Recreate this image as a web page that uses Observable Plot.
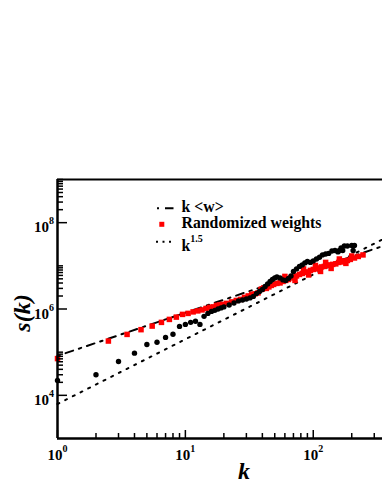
<!DOCTYPE html>
<html><head><meta charset="utf-8">
<script src="https://cdn.jsdelivr.net/npm/d3@7"></script>
<script src="https://cdn.jsdelivr.net/npm/@observablehq/plot@0.6"></script>
<style>body{margin:0;background:#fff} svg{display:block}</style>
</head><body><div id="chart"></div>
<script>
// Black circles: observed s(k)
const blackK = [1,2,3,4,5,6,7,8,9,10,11,12,13,14,15,16,17,18,19,20,22,24,26,28,30,32,34,36,38,40,42,44,46,48,50,52,55,58,61,64,67,70,74,78,82,86,90,95,100,106,112,118,125,132,140,148,156,160,165,170,175,185,200,205,210];
const blackS = [2.2e4,3.0e4,6.1e4,9.5e4,1.5e5,1.7e5,2.2e5,2.6e5,3.95e5,4.4e5,4.9e5,5.2e5,4.4e5,6.75e5,7.9e5,8.8e5,9.3e5,1.0e6,1.06e6,1.12e6,1.24e6,1.38e6,1.54e6,1.62e6,1.71e6,1.81e6,1.96e6,2.3e6,2.55e6,2.84e6,3.33e6,3.81e6,4.35e6,4.84e6,5.25e6,5.53e6,5.25e6,4.72e6,4.59e6,5.11e6,5.83e6,7.42e6,8.48e6,9.69e6,1.05e7,1.17e7,1.26e7,1.2e7,1.3e7,1.44e7,1.58e7,1.79e7,1.88e7,1.94e7,2.21e7,2.27e7,2.1e7,2.27e7,2.6e7,2.27e7,2.89e7,2.89e7,2.97e7,2.27e7,2.97e7];
// Red squares: randomized weights
const redK = [1,2.5,3.5,4.5,5.5,6.5,7.5,8.5,9.5,10.5,11.5,12.5,13.5,14.5,15.5,16.5,17.5,18.5,19.5,21,23,25,27,29,31,33,35,37,39,40,41,43,45,47,49,52,55,58,60,61,64,67,70,72,74,78,82,84,86,90,92,95,100,104,105,110,114,116,122,125,128,135,138,142,150,158,160,166,175,180,185,195,200,210,225,245];
const redS = [7.1e4,1.81e5,2.58e5,3.32e5,4.02e5,4.9e5,5.74e5,6.49e5,7.5e5,7.91e5,8.57e5,9.04e5,9.53e5,1.03e6,1.09e6,1.12e6,1.21e6,1.24e6,1.28e6,1.35e6,1.46e6,1.58e6,1.67e6,1.86e6,2.01e6,2.18e6,2.24e6,2.36e6,2.84e6,2.9e6,3.08e6,3.0e6,3.25e6,3.52e6,3.71e6,3.92e6,4.02e6,4.35e6,5.69e6,4.59e6,4.84e6,5.25e6,5.53e6,4.59e6,5.84e6,6.32e6,6.67e6,8.48e6,7.03e6,7.22e6,6.15e6,7.83e6,8.26e6,1.02e7,8.48e6,8.94e6,7.42e6,9.44e6,9.69e6,1.2e7,1.02e7,1.05e7,8.71e6,1.08e7,1.11e7,1.2e7,1.44e7,1.23e7,1.3e7,1.14e7,1.33e7,1.41e7,1.69e7,1.52e7,1.65e7,1.79e7];
// Reference lines
const kwK = [1, 348];
const kwS = [8.2e4, 2.85e7];
const k15K = [1, 348];
const k15S = [6.3e3, 4.09e7];
// Ticks
const xMajor = [1, 10, 100];
const xMinor = [2,3,4,5,6,7,8,9,20,30,40,50,60,70,80,90,200,300];
const yMajor = [1e4, 1e6, 1e8];
const yMinor = [2e4,3e4,4e4,5e4,6e4,7e4,8e4,9e4,1e5,2e6,3e6,4e6,5e6,6e6,7e6,8e6,9e6,1e7,2e8,3e8,4e8,5e8,6e8,7e8,8e8,9e8,1e9];
const xDomain = [1, 348];
const yDomain = [1e3, 1e9];
const legendLabels = ["k <w>", "Randomized weights", "k", "1.5"];
const xLabel = "k";
const yLabel = "s(k)";

const black = blackK.map((k, i) => ({k, s: blackS[i]}));
const red = redK.map((k, i) => ({k, s: redS[i]}));
const kw = kwK.map((k, i) => ({k, s: kwS[i]}));
const k15 = k15K.map((k, i) => ({k, s: k15S[i]}));

const font = "'Liberation Serif', 'Times New Roman', serif";
const expFmt = d => "10^" + Math.round(Math.log10(d));

const chart = Plot.plot({
  width: 382, height: 494,
  marginLeft: 57, marginRight: 0, marginTop: 179, marginBottom: 56,
  style: {fontFamily: font, background: "white", color: "black"},
  x: {type: "log", domain: xDomain, label: null},
  y: {type: "log", domain: yDomain, label: null},
  marks: [
    Plot.line(kw, {x: "k", y: "s", stroke: "black", strokeWidth: 2, strokeDasharray: "2.5,6,8,6"}),
    Plot.line(k15, {x: "k", y: "s", stroke: "black", strokeWidth: 2, strokeDasharray: "2,6.6"}),
    Plot.dot(red, {x: "k", y: "s", symbol: "square", r: 3.1, fill: "#ff0000"}),
    Plot.dot(black, {x: "k", y: "s", r: 2.7, fill: "black"}),
    Plot.axisX({ticks: xMinor, tickSize: -5, tickFormat: () => "", strokeWidth: 1.5, label: null}),
    Plot.axisX({ticks: xMajor, tickSize: -8, tickFormat: () => "", strokeWidth: 1.5, label: null}),
    Plot.axisX({ticks: xMajor, tickSize: 0, tickPadding: 11, tickFormat: expFmt, fontSize: 15, fontWeight: "bold", label: null}),
    Plot.axisY({ticks: yMinor, tickSize: -6, tickFormat: () => "", strokeWidth: 1.5, label: null}),
    Plot.axisY({ticks: yMajor, tickSize: -10, tickFormat: () => "", strokeWidth: 1.5, label: null}),
    Plot.axisY({ticks: yMajor, tickSize: 0, tickPadding: 3.5, dy: 5, tickFormat: expFmt, fontSize: 15, fontWeight: "bold", label: null}),
    Plot.ruleX([xDomain[0]], {strokeWidth: 2.5}),
    Plot.ruleY([yDomain[0]], {strokeWidth: 2.5}),
    Plot.ruleY([yDomain[1]], {strokeWidth: 2})
  ]
});

const svg = d3.select(chart);
// superscripts in tick labels
svg.selectAll('g[aria-label="x-axis tick label"] text, g[aria-label="y-axis tick label"] text').each(function() {
  const t = this.textContent;
  if (!t.includes("^")) return;
  const [base, exp] = t.split("^");
  const el = d3.select(this);
  el.text(null);
  el.append("tspan").text(base);
  el.append("tspan").attr("dy", -8).attr("font-size", 10).text(exp);
});

// axis titles
svg.append("text").attr("x", 244).attr("y", 479).attr("text-anchor", "middle")
  .attr("font-family", font).attr("font-size", 24).attr("font-weight", "bold").attr("font-style", "italic")
  .text(xLabel);
svg.append("text").attr("transform", "translate(30,313) rotate(-90)").attr("text-anchor", "middle")
  .attr("font-family", font).attr("font-size", 24).attr("font-weight", "bold").attr("font-style", "italic")
  .text(yLabel);

// legend
const lg = svg.append("g").attr("font-family", font).attr("font-size", 15.8).attr("font-weight", "bold")
  .attr("fill", "black").attr("text-anchor", "start");
lg.append("line").attr("x1", 157).attr("x2", 174).attr("y1", 208.3).attr("y2", 208.3)
  .attr("stroke", "black").attr("stroke-width", 2).attr("stroke-dasharray", "2,6,8.5");
lg.append("text").attr("x", 181.5).attr("y", 211.5).attr("text-anchor", "start").text(legendLabels[0]);
lg.append("rect").attr("x", 159.3).attr("y", 221.8).attr("width", 5).attr("height", 5).attr("fill", "#ff0000");
lg.append("text").attr("x", 181.5).attr("y", 228).attr("text-anchor", "start").text(legendLabels[1]);
lg.append("line").attr("x1", 156).attr("x2", 172).attr("y1", 241.7).attr("y2", 241.7)
  .attr("stroke", "black").attr("stroke-width", 2).attr("stroke-dasharray", "2,4.5");
const t3 = lg.append("text").attr("x", 181.5).attr("y", 250.5).attr("text-anchor", "start");
t3.append("tspan").text(legendLabels[2]);
t3.append("tspan").attr("dy", -8.5).attr("font-size", 10).text(legendLabels[3]);

document.getElementById("chart").append(chart);
</script>
</body></html>
